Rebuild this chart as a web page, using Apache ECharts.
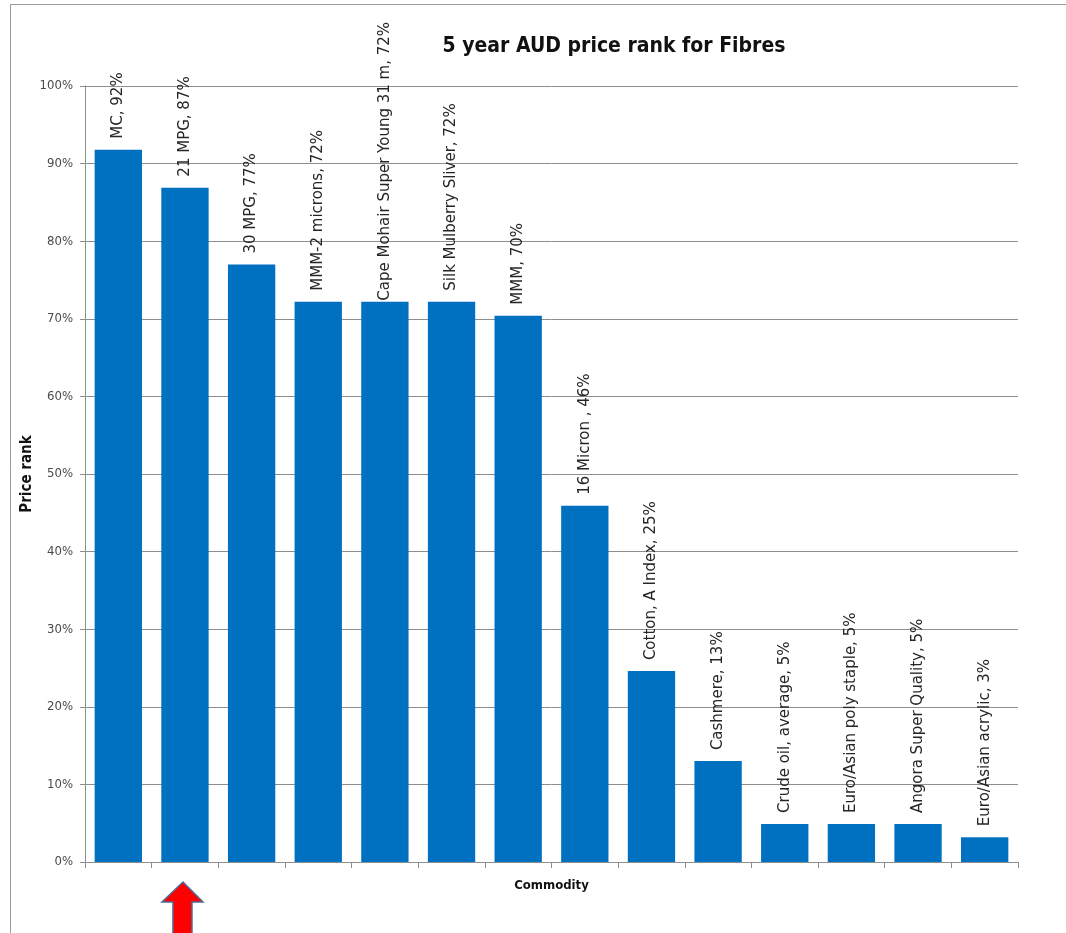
<!DOCTYPE html>
<html>
<head>
<meta charset="utf-8">
<title>5 year AUD price rank for Fibres</title>
<script src="https://cdn.jsdelivr.net/npm/echarts@6/dist/echarts.min.js"></script>
<style>
  html, body { margin: 0; padding: 0; background: #fff; }
  #chart { width: 1066px; height: 933px; }
</style>
</head>
<body>
<div id="chart"></div>
<script>
// Commodities and their 5-year AUD price rank (percent)
const commodities = [
  'MC', '21 MPG', '30 MPG', 'MMM-2 microns', 'Cape Mohair Super Young 31 m',
  'Silk Mulberry Sliver', 'MMM', '16 Micron ', 'Cotton, A Index', 'Cashmere',
  'Crude oil, average', 'Euro/Asian poly staple', 'Angora Super Quality', 'Euro/Asian acrylic'
];
const priceRank = [91.8, 86.9, 77.0, 72.2, 72.2, 72.2, 70.4, 45.9, 24.6, 13.0, 4.9, 4.9, 4.9, 3.2];
const rankTicks = [0, 10, 20, 30, 40, 50, 60, 70, 80, 90, 100];

const chart = echarts.init(document.getElementById('chart'), null, { renderer: 'canvas' });

const narrow = '"Liberation Sans Narrow", "DejaVu Sans Condensed", sans-serif';
const gridColor = '#8e8e8e';

// The longest label sits right on its bar so it stays inside the page
const longest = commodities.reduce((best, c, i) => c.length > commodities[best].length ? i : best, 0);
const barData = priceRank.map((v, i) => i === longest ? { value: v, label: { distance: 1 } } : v);

chart.setOption({
  backgroundColor: '#ffffff',
  animation: false,
  title: {
    text: '5 year AUD price rank for Fibres',
    left: 609,
    top: 31,
    textAlign: 'center',
    textStyle: { fontFamily: narrow, fontWeight: 'bold', fontSize: 21, color: '#111' }
  },
  grid: { left: 85, right: 48, top: 86, bottom: 71, containLabel: false },
  xAxis: {
    type: 'category',
    data: commodities,
    name: 'Commodity',
    nameLocation: 'middle',
    nameGap: 17,
    nameMoveOverlap: false,
    nameTextStyle: { fontFamily: narrow, fontWeight: 'bold', fontSize: 13, color: '#111' },
    axisLine: { lineStyle: { color: gridColor, width: 1 } },
    axisTick: { show: true, interval: 0, length: 6, lineStyle: { color: gridColor } },
    axisLabel: { show: false }
  },
  yAxis: {
    type: 'value',
    min: rankTicks[0],
    max: rankTicks[rankTicks.length - 1],
    interval: 10,
    name: 'Price rank',
    nameLocation: 'middle',
    nameGap: 50,
    nameMoveOverlap: false,
    nameRotate: 90,
    nameTextStyle: { fontFamily: narrow, fontWeight: 'bold', fontSize: 15, color: '#111' },
    axisLine: { show: true, lineStyle: { color: gridColor, width: 1 } },
    axisTick: { show: true, length: 5, lineStyle: { color: gridColor } },
    axisLabel: {
      formatter: v => rankTicks.includes(v) ? v + '%' : '',
      fontFamily: narrow, fontSize: 13, color: '#4a4a4a', margin: 12
    },
    splitLine: { show: true, lineStyle: { color: gridColor, width: 1 } }
  },
  series: [{
    type: 'bar',
    data: barData,
    barCategoryGap: '29%',
    itemStyle: { color: '#0070c0' },
    label: {
      show: true,
      position: 'top',
      rotate: 90,
      align: 'left',
      verticalAlign: 'middle',
      distance: 11,
      fontFamily: '"DejaVu Sans", sans-serif',
      fontSize: 15,
      color: '#262626',
      formatter: p => p.name + ', ' + Math.round(p.value) + '%'
    }
  }]
});

// Page frame and the pointer arrow under the 21 MPG bar
const cx = chart.convertToPixel({ xAxisIndex: 0 }, 1) - 2;
chart.setOption({
  graphic: [
    { type: 'line', shape: { x1: 10, y1: 4.5, x2: 1066, y2: 4.5 }, style: { stroke: '#9a9a9a', lineWidth: 1 } },
    { type: 'line', shape: { x1: 10.5, y1: 4, x2: 10.5, y2: 933 }, style: { stroke: '#9a9a9a', lineWidth: 1 } },
    {
      type: 'polygon',
      shape: {
        points: [
          [cx, 882], [cx + 20, 902], [cx + 9, 902], [cx + 9, 940],
          [cx - 10, 940], [cx - 10, 902], [cx - 21, 902]
        ]
      },
      style: { fill: '#ff0000', stroke: '#4f6b94', lineWidth: 1.5 }
    }
  ]
});
</script>
</body>
</html>
